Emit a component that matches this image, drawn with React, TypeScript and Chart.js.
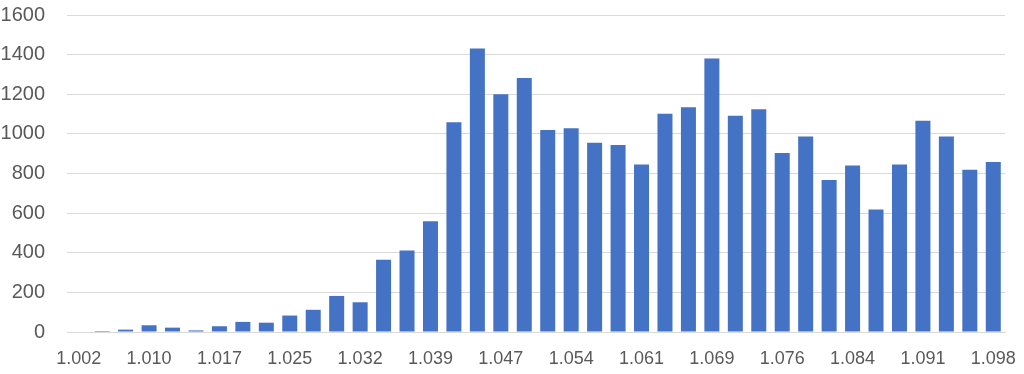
import React, { useEffect, useRef } from "react";
import { Chart, registerables } from "chart.js";

Chart.register(...registerables);

const categories: string[] = [
  "1.002", "1.005", "1.007", "1.010", "1.012", "1.015", "1.017", "1.020",
  "1.022", "1.025", "1.027", "1.029", "1.032", "1.034", "1.037", "1.039",
  "1.042", "1.044", "1.047", "1.049", "1.052", "1.054", "1.057", "1.059",
  "1.061", "1.064", "1.066", "1.069", "1.071", "1.074", "1.076", "1.079",
  "1.081", "1.084", "1.086", "1.089", "1.091", "1.093", "1.096", "1.098",
];

const counts: number[] = [
  0, 5, 12, 34, 22, 8, 29, 51, 47, 83, 112, 182, 150, 365, 411, 559,
  1059, 1431, 1200, 1282, 1020, 1029, 955, 944, 845, 1102, 1134, 1380,
  1091, 1124, 904, 987, 767, 841, 618, 845, 1066, 987, 819, 858,
];

const yTicks: number[] = [0, 200, 400, 600, 800, 1000, 1200, 1400, 1600];

export default function App() {
  const ref = useRef<HTMLCanvasElement | null>(null);

  useEffect(() => {
    document.body.style.margin = "0";
    const canvas = ref.current;
    if (!canvas) return;
    const chart = new Chart(canvas, {
      type: "bar",
      data: {
        labels: categories,
        datasets: [
          {
            data: counts,
            backgroundColor: "#4472C4",
            borderWidth: 0,
            barPercentage: 0.64,
            categoryPercentage: 1,
          },
        ],
      },
      options: {
        animation: false,
        responsive: false,
        maintainAspectRatio: false,
        layout: { padding: { top: 3, right: 0, bottom: 0, left: 0 } },
        plugins: { legend: { display: false }, tooltip: { enabled: false } },
        scales: {
          x: {
            grid: { display: false, drawTicks: false },
            border: { display: true, color: "#d9d9d9", width: 1 },
            ticks: {
              autoSkip: false,
              maxRotation: 0,
              minRotation: 0,
              padding: 16,
              color: "#595959",
              font: { family: "'Liberation Sans', Arial, sans-serif", size: 18 },
              callback: (_v: any, i: number) => (i % 3 === 0 ? categories[i] : ""),
            },
            afterFit: (s: any) => {
              s.height = 42;
              s.paddingRight = 19;
              s.paddingLeft = 0;
            },
          },
          y: {
            min: 0,
            max: 1600,
            afterBuildTicks: (s: any) => {
              s.ticks = yTicks.map((v) => ({ value: v }));
            },
            grid: {
              color: "#d9d9d9",
              drawTicks: true,
              tickLength: 19,
              tickColor: "rgba(0,0,0,0)",
              lineWidth: 1,
            },
            border: { display: false },
            ticks: {
              padding: 3,
              color: "#595959",
              font: { family: "'Liberation Sans', Arial, sans-serif", size: 20 },
              callback: (v: any) => String(v),
            },
            afterFit: (s: any) => {
              s.width = 67;
            },
          },
        },
      },
    });
    return () => chart.destroy();
  }, []);

  return <canvas ref={ref} width={1024} height={374} style={{ display: "block" }} />;
}
